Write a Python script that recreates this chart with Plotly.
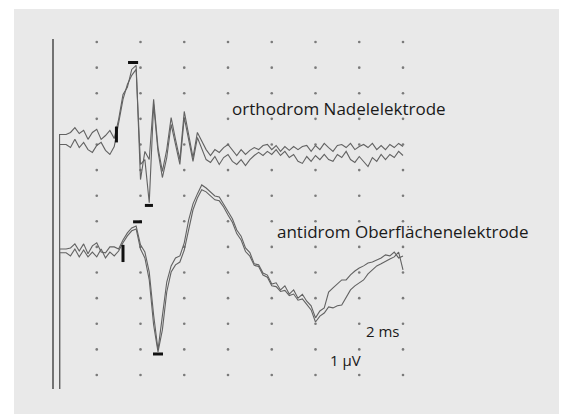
import plotly.graph_objects as go

# ---------------- data ----------------
# sampling times (ms) of the recorded sweeps
t_ms = [0.3, 0.4, 0.6, 0.8, 1.0, 1.2, 1.4, 1.6, 1.8, 2.0, 2.2, 2.4, 2.6, 2.8, 3.0,
        3.2, 3.4, 3.6, 3.8, 4.0, 4.2, 4.4, 4.6, 4.8, 5.0, 5.2, 5.4, 5.6, 5.8, 6.0,
        6.2, 6.4, 6.6, 6.8, 7.0, 7.2, 7.4, 7.6, 7.8, 8.0, 8.2, 8.4, 8.6, 8.8, 9.0,
        9.2, 9.4, 9.6, 9.8, 10.0, 10.2, 10.4, 10.6, 10.8, 11.0, 11.2, 11.4, 11.6,
        11.8, 12.0, 12.2, 12.4, 12.6, 12.8, 13.0, 13.2, 13.4, 13.6, 13.8, 14.0,
        14.2, 14.4, 14.6, 14.8, 15.0, 15.2, 15.4, 15.6, 15.8, 16.0]

# orthodrom, needle electrode (two superimposed sweeps, µV relative to baseline)
ortho_a = [0.39, 0.39, 0.39, 0.47, 0.66, 0.43, 0.55, 0.2, 0.47, 0.59, 0.2, 0.35, 0.55, 0.23, 0.98,
           1.95, 2.23, 2.93, 3.09, -1.37, -0.27, -0.59, 1.76, -0.12, -1.05, -0.2, 1.05, 0.2, -0.59, 1.29,
           0.39, -0.51, 0.47, 0.12, -0.2, -0.43, -0.2, -0.31, -0.12, 0.0, -0.2, -0.43, -0.2, -0.39, -0.23,
           -0.12, -0.2, -0.04, 0.0, -0.2, -0.04, -0.27, -0.08, -0.23, -0.08, -0.2, -0.08, -0.04,
           -0.27, -0.04, -0.2, 0.04, -0.12, -0.27, -0.04, 0.0, -0.12, 0.04, -0.2, -0.08,
           0.0, -0.12, 0.04, -0.2, -0.04, -0.2, 0.0, -0.12, 0.04, -0.08]
ortho_b = [0.0, 0.0, 0.0, -0.12, 0.2, -0.12, 0.08, -0.2, -0.31, -0.04, 0.08, -0.23, -0.39, -0.08, 0.78,
           1.76, 2.34, 2.7, 2.93, -0.78, -0.59, -2.27, 1.56, -0.27, -1.29, -0.51, 0.78, 0.0, -0.78, 1.05,
           0.2, -0.66, 0.27, -0.2, -0.59, -0.7, -0.47, -0.78, -0.51, -0.39, -0.66, -0.78, -0.59, -0.82, -0.59,
           -0.43, -0.31, -0.43, -0.27, -0.39, -0.2, -0.43, -0.27, -0.51, -0.39, -0.66, -0.74, -0.47,
           -0.66, -0.43, -0.59, -0.39, -0.59, -0.66, -0.39, -0.51, -0.27, -0.59, -0.7, -0.47,
           -0.66, -0.86, -0.51, -0.66, -0.39, -0.59, -0.39, -0.51, -0.27, -0.43]

# antidrom, surface electrode (two superimposed sweeps, µV relative to baseline)
anti_a = [-0.08, -0.08, -0.08, -0.04, 0.12, -0.16, 0.12, -0.27, 0.04, 0.16, -0.2, -0.23, 0.0, 0.0, -0.08,
          0.27, 0.55, 0.74, 0.82, 0.08, -0.2, -0.98, -2.66, -4.02, -2.66, -1.37, -0.74, -0.43, -0.35, 0.16,
          1.05, 1.68, 2.07, 2.42, 2.3, 2.15, 1.99, 1.95, 1.68, 1.41, 1.1, 0.66, 0.42, -0.04, -0.22,
          -0.66, -0.7, -1.02, -1.1, -1.45, -1.4, -1.68, -1.52, -1.84, -1.68, -2.0, -1.85, -2.12,
          -2.3, -2.77, -2.5, -2.38, -1.76, -1.6, -1.45, -1.29, -1.29, -1.09, -0.94, -0.82,
          -0.74, -0.63, -0.59, -0.51, -0.43, -0.31, -0.35, -0.2, -0.43, -0.35]
anti_b = [-0.23, -0.23, -0.23, -0.35, -0.08, -0.39, -0.12, -0.39, -0.2, -0.39, -0.08, -0.43, -0.2, -0.35, -0.16,
          0.16, 0.43, 0.63, 0.7, -0.08, -0.43, -1.29, -3.05, -4.1, -3.24, -1.76, -0.98, -0.7, -0.59, -0.12,
          0.74, 1.45, 1.91, 2.23, 2.15, 1.99, 1.84, 1.8, 1.56, 1.25, 0.96, 0.52, 0.27, -0.18, -0.36,
          -0.72, -0.76, -1.1, -1.18, -1.52, -1.55, -1.74, -1.7, -1.9, -1.84, -2.08, -2.03, -2.24,
          -2.46, -2.93, -2.7, -2.58, -2.34, -2.38, -2.3, -2.27, -1.99, -1.68, -1.52, -1.41,
          -1.29, -1.05, -0.9, -0.74, -0.66, -0.55, -0.47, -0.39, -0.2, -0.9]

# stimulus artifact (ms) and its lower end (divisions, absolute)
stim_t = 0.3
stim_low = -0.55

# baseline offsets of the two recordings (divisions)
ortho_offset = 9
anti_offset = 5

# latency / amplitude cursors: (start ms, end ms, start µV, end µV), relative to baseline
ortho_cursors = [(2.9, 2.9, 0.08, 0.7), (3.43, 3.89, 3.2, 3.2), (4.2, 4.57, -2.38, -2.38)]
anti_cursors = [(3.2, 3.2, 0.08, -0.59), (3.66, 4.07, 0.98, 0.98), (4.57, 5.03, -4.18, -4.18)]

# dot grid: 2 ms per column, 1 division per row
grid_cols_ms = [2, 4, 6, 8, 10, 12, 14, 16]
grid_rows = [0, 1, 2, 3, 4, 5, 6, 7, 8, 9, 10, 11, 12, 13]

labels = {
    "ortho": "orthodrom Nadelelektrode",
    "anti": "antidrom Oberflächenelektrode",
    "time": "2 ms",
    "amp": "1 µV",
}

# ---------------- figure ----------------
TRACE_COL = "#626262"
fig = go.Figure()

gx = [c for c in grid_cols_ms for _ in grid_rows]
gy = [r for _ in grid_cols_ms for r in grid_rows]
fig.add_trace(go.Scatter(x=gx, y=gy, mode="markers",
                         marker=dict(size=2.6, color="#7a7a7a", line=dict(width=0)),
                         hoverinfo="skip"))


def add_sweep(vals, offset):
    xs = [stim_t] + t_ms
    ys = [stim_low] + [v + offset for v in vals]
    fig.add_trace(go.Scatter(x=xs, y=ys, mode="lines",
                             line=dict(color=TRACE_COL, width=1.1)))


add_sweep(ortho_a, ortho_offset)
add_sweep(ortho_b, ortho_offset)
add_sweep(anti_a, anti_offset)
add_sweep(anti_b, anti_offset)

for cursors, off in ((ortho_cursors, ortho_offset), (anti_cursors, anti_offset)):
    for x0, x1, y0, y1 in cursors:
        fig.add_trace(go.Scatter(x=[x0, x1], y=[y0 + off, y1 + off], mode="lines",
                                 line=dict(color="#111111", width=3)))

# left reference line
fig.add_shape(type="line", x0=0, x1=0, y0=-0.55, y1=13.12, xref="x", yref="y",
              line=dict(color="#4a4a4a", width=1.5))

font_main = dict(family="Open Sans", size=17, color="#1a1a1a")
font_small = dict(family="Open Sans", size=15, color="#1a1a1a")
fig.add_annotation(x=8.09, y=10.42, text=labels["ortho"], showarrow=False,
                   xanchor="left", yanchor="middle", font=font_main)
fig.add_annotation(x=10.15, y=5.62, text=labels["anti"], showarrow=False,
                   xanchor="left", yanchor="middle", font=font_main)
fig.add_annotation(x=15.95, y=1.72, text=labels["time"], showarrow=False,
                   xanchor="right", yanchor="middle", font=font_small)
fig.add_annotation(x=12.57, y=0.59, text=labels["amp"], showarrow=False,
                   xanchor="left", yanchor="middle", font=font_small)

# the page body has an 8px margin, so the figure is sized to fit the window
fig.update_layout(
    width=559, height=406,
    margin=dict(l=6, r=0, t=1, b=0),
    paper_bgcolor="white",
    plot_bgcolor="#e9e9e9",
    showlegend=False,
    xaxis=dict(range=[-1.783, 23.497], visible=False, fixedrange=True),
    yaxis=dict(range=[-1.523, 14.289], visible=False, fixedrange=True),
)

fig.write_html("out.html", config={"displayModeBar": False})
